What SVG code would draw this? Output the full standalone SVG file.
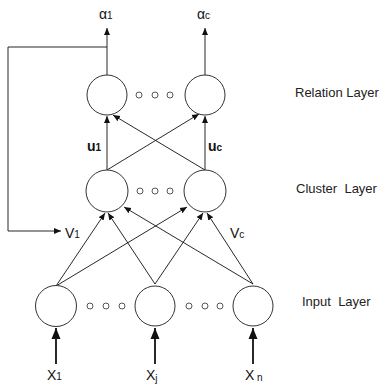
<svg xmlns="http://www.w3.org/2000/svg" width="385" height="385" viewBox="0 0 385 385">
<style>
.node{fill:#fff;stroke:#333;stroke-width:1}
.dot{fill:#fff;stroke:#444;stroke-width:0.9}
.ln{stroke:#111;stroke-width:0.9;fill:none}
.thick{stroke:#111;stroke-width:1.8;fill:none}
.lbl{font-family:"Liberation Sans",Arial,sans-serif;font-size:13px;fill:#222}
.sym{font-family:"Liberation Sans",Arial,sans-serif;font-size:14px;fill:#111}
.sub{font-size:10px}
.bold{font-weight:bold}
</style>
<defs>
<marker id="ah" markerUnits="userSpaceOnUse" markerWidth="8" markerHeight="8" refX="7" refY="4" orient="auto">
<path d="M0,1 L7,4 L0,7 z" fill="#111"/>
</marker>
<marker id="ahb" markerUnits="userSpaceOnUse" markerWidth="12" markerHeight="10" refX="11" refY="5" orient="auto">
<path d="M0,0.5 L11,5 L0,9.5 z" fill="#111"/>
</marker>
</defs>
<g id="connectors">
<polyline class="ln" points="107,47 8,47 8,231 61,231" marker-end="url(#ah)"/>
<line class="ln" x1="107" y1="75" x2="107" y2="28" marker-end="url(#ah)"/>
<line class="ln" x1="205" y1="75" x2="205" y2="28" marker-end="url(#ah)"/>
<line class="ln" x1="107" y1="170" x2="107" y2="116" marker-end="url(#ah)"/>
<line class="ln" x1="107" y1="170" x2="199" y2="114" marker-end="url(#ah)"/>
<line class="ln" x1="205" y1="170" x2="113" y2="115" marker-end="url(#ah)"/>
<line class="ln" x1="205" y1="170" x2="205" y2="116" marker-end="url(#ah)"/>
<line class="ln" x1="56" y1="286" x2="105" y2="213" marker-end="url(#ah)"/>
<line class="ln" x1="56" y1="286" x2="187" y2="207" marker-end="url(#ah)"/>
<line class="ln" x1="155" y1="284" x2="108" y2="213" marker-end="url(#ah)"/>
<line class="ln" x1="155" y1="284" x2="203" y2="213" marker-end="url(#ah)"/>
<line class="ln" x1="253" y1="284" x2="124" y2="207" marker-end="url(#ah)"/>
<line class="ln" x1="253" y1="284" x2="207" y2="213" marker-end="url(#ah)"/>
<line class="thick" x1="56" y1="364" x2="56" y2="328" marker-end="url(#ahb)"/>
<line class="thick" x1="155" y1="364" x2="155" y2="328" marker-end="url(#ahb)"/>
<line class="thick" x1="253" y1="364" x2="253" y2="328" marker-end="url(#ahb)"/>
</g>
<g id="relation1"><circle class="node" cx="107" cy="95" r="20"/></g>
<g id="relationC"><circle class="node" cx="205" cy="95" r="20"/></g>
<g id="relationDots"><circle class="dot" cx="139" cy="95" r="3"/><circle class="dot" cx="155" cy="95" r="3"/><circle class="dot" cx="170" cy="95" r="3"/></g>
<g id="cluster1"><circle class="node" cx="107" cy="191" r="21"/></g>
<g id="clusterC"><circle class="node" cx="205" cy="191" r="21"/></g>
<g id="clusterDots"><circle class="dot" cx="140" cy="191" r="3"/><circle class="dot" cx="155" cy="191" r="3"/><circle class="dot" cx="170" cy="191" r="3"/></g>
<g id="input1"><circle class="node" cx="56" cy="306" r="20.5"/></g>
<g id="inputJ"><circle class="node" cx="155" cy="306" r="20"/></g>
<g id="inputN"><circle class="node" cx="253" cy="306" r="20"/></g>
<g id="inputDots1"><circle class="dot" cx="90" cy="306" r="3"/><circle class="dot" cx="106" cy="306" r="3"/><circle class="dot" cx="122" cy="306" r="3"/></g>
<g id="inputDots2"><circle class="dot" cx="189" cy="306" r="3"/><circle class="dot" cx="205" cy="306" r="3"/><circle class="dot" cx="220" cy="306" r="3"/></g>
<g id="labels">
<text class="sym" x="99" y="19">α<tspan class="sub" dy="0">1</tspan></text>
<text class="sym" x="197" y="19">α<tspan class="sub" dy="0">c</tspan></text>
<text class="sym bold" x="87" y="151">u<tspan class="sub" dy="0">1</tspan></text>
<text class="sym bold" x="208" y="151">u<tspan class="sub" dy="0">c</tspan></text>
<text class="sym" x="65" y="238">V<tspan class="sub" dy="0">1</tspan></text>
<text class="sym" x="230" y="238">V<tspan class="sub" dy="0">c</tspan></text>
<text class="sym" x="47" y="380">X<tspan class="sub" dy="0">1</tspan></text>
<text class="sym" x="146" y="380">X<tspan class="sub" dy="2">j</tspan></text>
<text class="sym" x="245" y="380">X<tspan class="sub" dy="1"> n</tspan></text>
<text class="lbl" x="295" y="97">Relation Layer</text>
<text class="lbl" x="296" y="193" xml:space="preserve">Cluster  Layer</text>
<text class="lbl" x="302" y="306" xml:space="preserve">Input  Layer</text>
</g>
</svg>
